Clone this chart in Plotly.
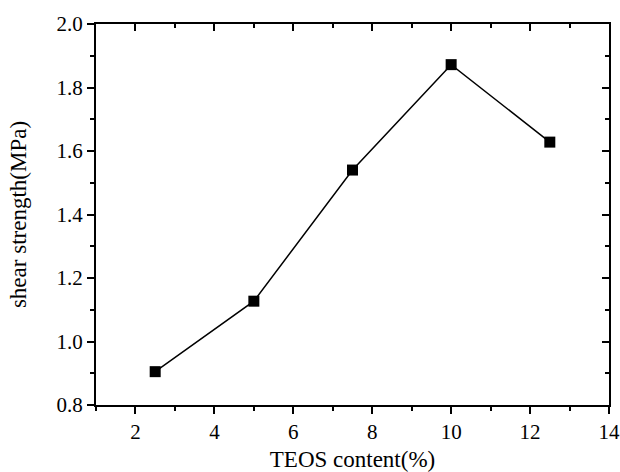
import plotly.graph_objects as go

teos = [2.5, 5, 7.5, 10, 12.5]
strength = [0.905, 1.127, 1.540, 1.872, 1.628]
x_ticks = [2, 4, 6, 8, 10, 12, 14]
y_ticks = [0.8, 1.0, 1.2, 1.4, 1.6, 1.8, 2.0]

tick_font = dict(family="Liberation Serif", size=21, color="black")
title_font = dict(family="Liberation Serif", size=23, color="black")

fig = go.Figure()
fig.add_trace(go.Scatter(x=teos, y=strength, mode="lines+markers",
                         line=dict(color="black", width=1.5),
                         marker=dict(symbol="square", size=11, color="black"),
                         showlegend=False))
fig.add_trace(go.Scatter(x=[teos[0]], y=[strength[0]], xaxis="x2", yaxis="y2",
                         mode="markers", marker=dict(opacity=0), showlegend=False,
                         hoverinfo="skip"))

common = dict(showgrid=False, zeroline=False, linecolor="black", linewidth=2,
              tickcolor="black", tickwidth=1.5, ticklen=7, showline=True,
              automargin=False, tickfont=tick_font)

fig.update_layout(
    width=620, height=472,
    margin=dict(l=96, r=11, t=24, b=67),
    paper_bgcolor="white", plot_bgcolor="white",
    font=tick_font,
    xaxis=dict(range=[1, 14], tickvals=x_ticks, ticks="outside",
               minor=dict(ticks="outside", dtick=1, tick0=1, ticklen=4, tickcolor="black"),
               title=dict(text="TEOS content(%)", font=title_font, standoff=15), **common),
    yaxis=dict(range=[0.8, 2.0], tickvals=y_ticks, tickformat=".1f", ticks="outside",
               minor=dict(ticks="outside", dtick=0.1, tick0=0.8, ticklen=4, tickcolor="black"),
               title=dict(text="shear strength(MPa)", font=title_font, standoff=23), **common),
    xaxis2=dict(range=[1, 14], overlaying="x", side="top", tickvals=x_ticks, ticks="inside",
                showticklabels=False,
                minor=dict(ticks="inside", dtick=1, tick0=1, ticklen=4, tickcolor="black"),
                **common),
    yaxis2=dict(range=[0.8, 2.0], overlaying="y", side="right", tickvals=y_ticks, ticks="inside",
                showticklabels=False,
                minor=dict(ticks="inside", dtick=0.1, tick0=0.8, ticklen=4, tickcolor="black"),
                **common),
)

fig.write_html("out.html")
